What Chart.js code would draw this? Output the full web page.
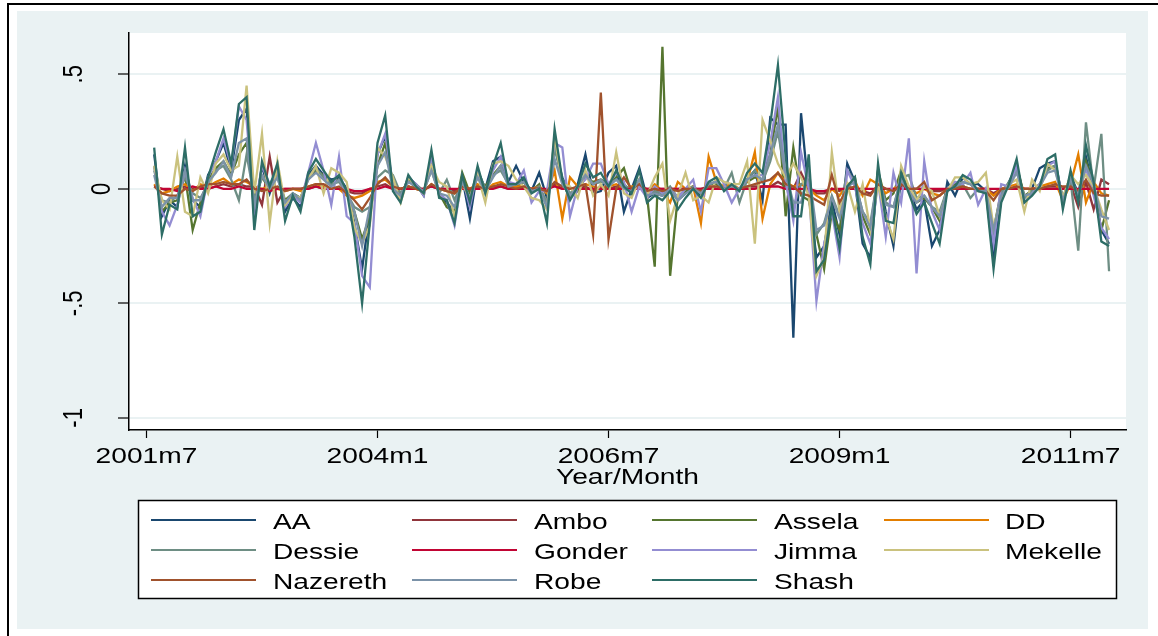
<!DOCTYPE html>
<html>
<head>
<meta charset="utf-8">
<script src="https://cdn.jsdelivr.net/npm/chart.js@4.4.1/dist/chart.umd.min.js"></script>
<style>
  html, body { margin: 0; padding: 0; background: #fff; }
  canvas { display: block; }
</style>
</head>
<body>
<canvas id="chart" width="1158" height="636"></canvas>
<script>
// months counted from 2001m7 (= 0); data runs 2001m8 .. 2011m12
const months = Array.from({ length: 125 }, (_, i) => i + 1);

const xTickMonths = [0, 30, 60, 90, 120];
const xTickLabels = ['2001m7', '2004m1', '2006m7', '2009m1', '2011m7'];
const yTickValues = [-1, -0.5, 0, 0.5];
const yTickLabels = ['-1', '-.5', '0', '.5'];

const seriesNames = ['AA', 'Ambo', 'Assela', 'DD', 'Dessie', 'Gonder', 'Jimma', 'Mekelle', 'Nazereth', 'Robe', 'Shash'];
const seriesColors = ['#1A476F', '#90353B', '#55752F', '#E37E00', '#6E8E84', '#C10534', '#938DD2', '#CAC27E', '#A0522D', '#7B92A8', '#2D6D66'];

const aa = [
  0.15, -0.12, -0.05, -0.08, 0.10, -0.05, -0.08, 0.06, 0.12, 0.20,
  0.08, 0.30, 0.35, -0.12, 0.10, -0.02, 0.08, -0.10, -0.04, -0.08,
  0.06, 0.10, 0.06, 0.04, 0.05, 0.00, -0.15, -0.35, -0.10, 0.15,
  0.23, 0.01, -0.04, 0.05, 0.02, -0.03, 0.14, -0.03, -0.06, -0.10,
  0.05, -0.13, 0.08, 0.00, 0.12, 0.14, 0.03, 0.10, 0.03, -0.01,
  0.07, -0.04, 0.18, 0.05, -0.03, 0.02, 0.15, -0.02, -0.01, 0.07,
  0.10, -0.10, 0.00, 0.09, -0.04, -0.02, -0.03, 0.00, -0.05, -0.02,
  0.01, -0.03, 0.02, 0.03, 0.00, 0.01, 0.00, 0.04, 0.08, -0.05,
  0.31, 0.28, 0.28, -0.65, 0.33, -0.02, -0.30, -0.25, -0.05, -0.20,
  0.11, 0.03, -0.24, -0.30, 0.08, -0.10, -0.25, 0.05, 0.00, -0.09,
  -0.05, -0.25, -0.18, 0.03, -0.03, 0.05, 0.02, 0.02, -0.01, -0.30,
  -0.04, 0.03, 0.10, -0.04, 0.00, 0.09, 0.11, 0.12, -0.05, 0.06,
  -0.02, 0.14, 0.00, -0.18, -0.24
];
const ambo = [
  0.01, 0.00, -0.01, 0.00, 0.01, 0.00, 0.01, 0.00, 0.01, 0.02,
  0.01, 0.02, 0.01, 0.01, -0.07, 0.14, -0.06, 0.00, 0.00, 0.00,
  0.00, 0.01, 0.00, 0.00, 0.00, -0.01, -0.02, -0.02, 0.00, 0.01,
  0.02, 0.00, 0.00, 0.01, 0.00, 0.00, 0.01, 0.00, 0.00, -0.01,
  0.00, 0.00, 0.01, 0.00, 0.01, 0.01, 0.00, 0.00, 0.01, 0.00,
  0.00, -0.01, 0.02, 0.00, 0.00, 0.00, 0.01, -0.01, 0.01, 0.00,
  0.01, 0.00, 0.00, 0.01, 0.00, 0.00, 0.00, 0.00, 0.00, 0.00,
  0.00, 0.00, 0.01, 0.00, 0.00, 0.00, 0.00, 0.01, 0.01, 0.01,
  0.01, 0.03, 0.01, 0.00, 0.07, 0.00, -0.02, -0.02, 0.00, -0.01,
  0.01, 0.00, -0.01, -0.02, 0.01, 0.00, -0.01, 0.01, 0.00, 0.00,
  0.00, -0.01, -0.01, 0.00, 0.00, 0.00, 0.00, 0.00, 0.00, -0.02,
  0.00, 0.00, 0.01, 0.00, 0.00, 0.00, 0.01, 0.01, 0.00, 0.02,
  -0.08, 0.03, -0.09, 0.04, 0.02
];
const assela = [
  0.10, -0.10, -0.06, -0.05, 0.06, -0.18, -0.06, 0.04, 0.09, 0.12,
  0.06, 0.15, 0.20, -0.05, 0.05, 0.00, 0.06, -0.05, -0.02, -0.04,
  0.04, 0.08, 0.06, 0.03, 0.04, -0.02, -0.10, -0.22, -0.12, 0.10,
  0.20, 0.02, -0.03, 0.04, 0.00, -0.01, 0.10, -0.02, -0.08, -0.10,
  0.07, -0.02, 0.05, 0.01, 0.06, 0.10, 0.03, 0.01, 0.03, -0.01,
  0.02, -0.08, 0.20, 0.03, -0.04, -0.01, 0.05, 0.03, 0.04, 0.02,
  0.05, 0.09, -0.02, 0.04, -0.03, -0.34, 0.62, -0.38, -0.03, -0.01,
  0.01, -0.02, 0.02, 0.02, 0.00, 0.01, 0.00, 0.03, 0.05, 0.04,
  0.15, 0.36, -0.12, 0.18, -0.03, -0.05, -0.20, -0.35, -0.10, -0.18,
  0.00, 0.05, -0.12, -0.20, 0.08, -0.05, -0.02, 0.08, 0.00, -0.06,
  -0.04, -0.08, -0.14, 0.00, 0.02, 0.03, 0.02, -0.01, -0.01, -0.18,
  -0.01, 0.02, 0.10, -0.03, -0.01, 0.02, 0.09, 0.10, -0.04, 0.05,
  -0.04, 0.12, 0.01, -0.18, -0.05
];
const dd = [
  0.02, -0.02, -0.01, 0.01, 0.02, -0.01, 0.02, 0.01, 0.03, 0.045,
  0.02, 0.04, 0.03, 0.01, 0.00, 0.01, 0.00, -0.01, 0.00, -0.01,
  0.01, 0.02, 0.01, 0.00, 0.00, -0.03, -0.04, -0.03, -0.01, 0.03,
  0.04, 0.01, 0.00, 0.01, 0.00, -0.01, 0.02, 0.00, -0.01, -0.02,
  0.01, 0.00, 0.02, -0.01, 0.02, 0.03, 0.01, 0.01, 0.01, 0.00,
  0.01, -0.02, 0.08, -0.13, 0.05, 0.01, 0.02, 0.01, 0.00, 0.01,
  0.02, 0.00, 0.01, 0.02, -0.01, 0.02, -0.01, -0.06, 0.03, 0.00,
  0.01, -0.15, 0.14, 0.03, 0.01, 0.02, 0.00, 0.03, 0.16, -0.13,
  0.02, 0.07, 0.03, 0.01, 0.02, 0.00, -0.03, -0.05, 0.00, -0.03,
  0.02, 0.03, -0.03, 0.04, 0.02, -0.02, 0.00, 0.02, 0.01, -0.02,
  0.00, -0.02, -0.03, 0.00, 0.01, 0.01, 0.00, 0.00, 0.00, -0.03,
  0.00, 0.01, 0.02, 0.00, 0.00, 0.01, 0.02, 0.03, -0.05, 0.02,
  0.15, -0.06, 0.03, -0.02, -0.03
];
const dessie = [
  0.08, -0.05, -0.06, -0.03, 0.05, -0.02, -0.04, 0.02, 0.08, 0.10,
  0.04, -0.05, 0.15, -0.04, 0.05, 0.01, 0.05, -0.06, -0.02, -0.04,
  0.05, 0.09, 0.05, 0.02, 0.03, -0.02, -0.08, -0.10, -0.08, 0.05,
  0.08, 0.06, -0.02, 0.03, 0.02, -0.01, 0.08, -0.02, 0.04, -0.05,
  0.03, -0.04, 0.08, 0.00, 0.06, 0.08, 0.02, 0.02, 0.03, -0.01,
  0.01, -0.06, 0.18, 0.04, -0.02, 0.01, 0.06, 0.02, 0.03, 0.02,
  0.04, 0.02, -0.01, 0.03, -0.03, -0.01, -0.02, 0.01, -0.04, 0.00,
  0.01, -0.02, 0.02, 0.03, 0.00, 0.07, -0.06, 0.04, 0.08, 0.03,
  0.12, 0.25, 0.05, -0.08, 0.02, 0.04, -0.20, -0.15, -0.03, -0.12,
  0.08, 0.03, -0.10, -0.15, 0.06, -0.06, -0.08, 0.05, 0.06, -0.04,
  -0.03, -0.08, -0.10, 0.00, 0.01, 0.02, -0.04, 0.00, -0.01, -0.20,
  -0.02, 0.03, 0.08, -0.04, -0.01, 0.02, 0.08, 0.10, -0.05, 0.04,
  -0.27, 0.29, 0.00, 0.24, -0.36
];
const gonder = [
  0.01, 0.00, 0.00, -0.01, 0.00, 0.01, 0.00, 0.00, 0.01, 0.00,
  0.00, 0.01, 0.00, 0.00, 0.00, -0.01, 0.00, 0.00, 0.00, 0.00,
  0.00, 0.01, 0.00, 0.00, 0.00, 0.00, -0.01, -0.01, 0.00, 0.00,
  0.01, 0.00, 0.00, 0.00, 0.00, 0.00, 0.01, 0.00, 0.00, 0.00,
  0.00, 0.00, 0.00, 0.00, 0.00, 0.01, 0.00, 0.00, 0.00, 0.00,
  0.00, 0.00, 0.01, 0.00, 0.00, 0.00, 0.00, 0.00, 0.00, 0.00,
  0.00, 0.00, 0.00, 0.00, 0.00, 0.00, 0.00, 0.00, 0.00, 0.00,
  0.00, 0.00, 0.00, 0.00, 0.00, 0.00, 0.00, 0.00, 0.00, 0.01,
  0.01, 0.01, 0.00, 0.00, 0.00, 0.00, -0.01, -0.01, 0.00, 0.00,
  0.00, 0.00, 0.00, 0.00, 0.00, 0.00, 0.00, 0.00, 0.00, 0.00,
  0.00, 0.00, 0.00, 0.00, 0.00, 0.00, 0.00, 0.00, 0.00, 0.00,
  0.00, 0.00, 0.00, 0.00, 0.00, 0.00, 0.00, 0.00, 0.00, 0.00,
  0.00, 0.00, 0.00, 0.00, 0.00
];
const jimma = [
  0.10, -0.10, -0.16, -0.07, 0.08, -0.04, -0.12, 0.05, 0.12, 0.22,
  0.10, 0.36, 0.30, -0.10, 0.10, 0.02, 0.08, -0.08, -0.03, -0.06,
  0.07, 0.20, 0.08, -0.07, 0.14, -0.12, -0.15, -0.38, -0.43, 0.15,
  0.24, 0.02, -0.05, 0.05, 0.02, -0.03, 0.14, -0.02, -0.05, -0.16,
  0.05, -0.08, 0.08, -0.02, 0.08, 0.14, 0.03, 0.02, 0.08, -0.06,
  -0.01, -0.01, 0.20, 0.18, -0.12, 0.01, 0.04, 0.11, 0.11, 0.02,
  0.07, 0.03, -0.10, 0.01, -0.04, 0.01, -0.02, 0.00, -0.04, 0.00,
  0.04, -0.10, 0.09, 0.09, 0.02, -0.06, 0.00, 0.04, 0.06, 0.06,
  0.20, 0.40, 0.03, -0.14, 0.16, 0.00, -0.49, -0.24, -0.10, -0.30,
  0.08, 0.01, -0.15, -0.24, 0.03, -0.21, 0.07, -0.06, 0.22, -0.37,
  0.12, -0.10, -0.18, 0.00, 0.03, 0.02, 0.07, -0.07, 0.00, -0.24,
  0.02, 0.01, 0.10, -0.06, -0.02, 0.02, 0.10, 0.12, -0.05, 0.05,
  -0.03, 0.09, -0.03, -0.17, -0.22
];
const mekelle = [
  0.10, -0.05, -0.09, 0.14, -0.10, -0.12, 0.05, -0.02, 0.11, 0.15,
  0.08, 0.10, 0.45, -0.02, 0.24, -0.15, 0.12, -0.07, -0.03, -0.04,
  0.04, 0.10, -0.02, 0.09, 0.07, 0.03, -0.17, -0.24, -0.16, 0.18,
  0.14, 0.05, -0.06, 0.05, 0.01, -0.02, 0.10, 0.03, 0.01, -0.12,
  0.02, -0.04, 0.06, -0.06, 0.11, 0.12, 0.10, 0.04, 0.01, -0.04,
  -0.05, -0.09, 0.23, 0.02, 0.01, -0.04, 0.08, -0.03, 0.02, -0.03,
  0.16, -0.02, -0.04, 0.04, -0.03, 0.05, 0.11, -0.14, -0.03, 0.07,
  -0.05, -0.03, -0.06, 0.05, 0.03, 0.02, 0.02, 0.12, -0.24, 0.30,
  0.21, 0.11, 0.05, 0.11, 0.05, -0.03, -0.38, -0.30, 0.16, -0.10,
  0.02, -0.10, 0.02, -0.18, 0.02, -0.12, -0.22, 0.10, 0.01, -0.05,
  0.01, -0.01, -0.12, -0.01, 0.05, 0.05, 0.02, 0.03, 0.07, -0.17,
  -0.04, 0.02, 0.04, -0.10, 0.04, -0.01, 0.11, 0.08, -0.04, 0.06,
  0.02, 0.06, 0.01, -0.09, -0.18
];
const nazereth = [
  0.01, -0.02, -0.03, -0.03, 0.00, -0.01, 0.01, 0.02, 0.02, 0.03,
  0.02, 0.02, 0.04, 0.00, -0.01, 0.00, 0.01, -0.01, 0.00, 0.00,
  0.01, 0.02, 0.02, 0.00, 0.01, -0.02, -0.05, -0.09, -0.04, 0.02,
  0.05, 0.01, 0.00, 0.01, 0.00, -0.01, 0.02, 0.00, -0.01, -0.02,
  0.01, 0.00, 0.01, 0.00, 0.01, 0.02, 0.01, 0.00, 0.01, 0.00,
  0.00, -0.01, 0.03, 0.01, 0.00, 0.01, 0.02, -0.20, 0.42, -0.22,
  0.00, 0.05, 0.00, 0.02, -0.01, 0.00, -0.01, 0.00, -0.01, 0.00,
  0.00, -0.01, 0.01, 0.01, 0.00, 0.01, 0.00, 0.01, 0.02, 0.03,
  0.04, 0.07, 0.02, 0.01, -0.02, -0.03, -0.05, -0.07, 0.06, -0.06,
  0.00, 0.01, -0.02, -0.03, 0.02, 0.00, -0.01, 0.02, 0.00, 0.00,
  0.03, -0.05, -0.03, 0.00, 0.00, 0.01, 0.00, 0.00, -0.01, -0.05,
  0.00, 0.00, 0.01, 0.00, 0.00, 0.00, 0.01, 0.02, 0.01, 0.01,
  -0.01, 0.04, -0.02, -0.03, -0.03
];
const robe = [
  0.06, -0.08, -0.04, -0.04, 0.08, -0.05, -0.05, 0.03, 0.07, 0.12,
  0.05, 0.20, 0.22, -0.08, 0.06, 0.00, 0.05, -0.06, -0.02, -0.05,
  0.04, 0.07, 0.04, 0.01, 0.04, -0.01, -0.10, -0.25, -0.08, 0.10,
  0.16, 0.00, -0.03, 0.03, 0.01, -0.01, 0.08, -0.02, -0.03, -0.08,
  0.03, -0.04, 0.05, -0.01, 0.05, 0.10, 0.01, 0.02, 0.03, -0.01,
  0.00, -0.08, 0.13, 0.02, -0.03, 0.01, 0.06, 0.02, 0.04, 0.01,
  0.04, 0.00, -0.01, 0.04, -0.03, -0.02, -0.03, 0.00, -0.05, -0.02,
  0.00, -0.02, 0.02, 0.03, 0.00, 0.01, 0.00, 0.04, 0.06, 0.04,
  0.15, 0.28, 0.07, -0.06, -0.06, 0.08, -0.18, -0.16, -0.04, -0.13,
  0.01, 0.03, -0.10, -0.17, 0.06, -0.07, -0.08, 0.04, -0.01, -0.06,
  -0.03, -0.08, -0.12, -0.01, 0.01, 0.03, 0.02, -0.01, -0.01, -0.18,
  -0.03, 0.01, 0.07, -0.03, -0.02, 0.01, 0.07, 0.08, -0.05, 0.04,
  -0.03, 0.10, 0.02, -0.12, -0.13
];
const shash = [
  0.18, -0.20, -0.07, -0.09, 0.18, -0.12, -0.10, 0.05, 0.16, 0.26,
  0.11, 0.37, 0.40, -0.18, 0.12, 0.01, 0.11, -0.14, -0.03, -0.10,
  0.07, 0.13, 0.08, 0.03, 0.06, -0.01, -0.21, -0.50, -0.15, 0.20,
  0.32, -0.01, -0.06, 0.06, 0.01, -0.02, 0.17, -0.04, -0.05, -0.15,
  0.06, -0.06, 0.10, -0.02, 0.10, 0.20, 0.02, 0.02, 0.05, -0.02,
  0.00, -0.15, 0.26, 0.04, -0.05, 0.01, 0.11, 0.05, 0.07, 0.01,
  0.08, 0.01, -0.02, 0.08, -0.06, -0.03, -0.05, -0.01, -0.09, -0.04,
  0.00, -0.04, 0.03, 0.05, -0.01, 0.02, -0.01, 0.07, 0.11, 0.07,
  0.28, 0.54, 0.14, -0.12, -0.12, 0.15, -0.36, -0.31, -0.08, -0.26,
  0.01, 0.05, -0.21, -0.33, 0.11, -0.14, -0.15, 0.07, -0.02, -0.11,
  -0.06, -0.15, -0.24, -0.01, 0.01, 0.06, 0.04, -0.01, -0.02, -0.35,
  -0.06, 0.02, 0.13, -0.06, -0.03, 0.01, 0.13, 0.15, -0.09, 0.08,
  -0.06, 0.19, 0.03, -0.23, -0.25
];

const seriesValues = [aa, ambo, assela, dd, dessie, gonder, jimma, mekelle, nazereth, robe, shash];

const X_STRETCH = 1.28; // the reference text is widened horizontally
const FONT = '22px "Liberation Sans", Arial, sans-serif';

function drawText(ctx, text, x, y, align, rotated) {
  ctx.save();
  ctx.translate(x, y);
  ctx.scale(X_STRETCH, 1);
  if (rotated) ctx.rotate(-Math.PI / 2);
  ctx.font = FONT;
  ctx.fillStyle = '#000';
  ctx.textAlign = align;
  ctx.textBaseline = 'alphabetic';
  ctx.fillText(text, 0, 0);
  ctx.restore();
}

const stataFrame = {
  id: 'stataFrame',
  beforeDraw(chart) {
    const ctx = chart.ctx;
    const a = chart.chartArea;
    ctx.save();
    ctx.fillStyle = '#fff';
    ctx.fillRect(0, 0, chart.width, chart.height);
    ctx.fillStyle = '#000';
    ctx.fillRect(7, 3, chart.width - 7, 2);
    ctx.fillRect(7, 3, 2, chart.height - 3);
    ctx.fillStyle = '#EAF2F3';
    ctx.fillRect(17, 11, 1131, 618);
    ctx.fillStyle = '#fff';
    ctx.fillRect(a.left, a.top, a.right - a.left, a.bottom - a.top);
    ctx.restore();
  },
  afterDraw(chart) {
    const ctx = chart.ctx;
    const xs = chart.scales.x;
    const ys = chart.scales.y;
    const a = chart.chartArea;

    // y labels, vertical like Stata
    yTickValues.forEach((v, i) => {
      const py = ys.getPixelForValue(v);
      const bx = yTickLabels[i] === '0' ? 110 : 82;
      drawText(ctx, yTickLabels[i], bx, py, 'center', true);
    });

    // x labels and title
    xTickMonths.forEach((m, i) => {
      drawText(ctx, xTickLabels[i], xs.getPixelForValue(m), 463, 'center', false);
    });
    drawText(ctx, 'Year/Month', (a.left + a.right) / 2, 484, 'center', false);

    // legend box
    ctx.save();
    ctx.fillStyle = '#fff';
    ctx.fillRect(138, 500, 979, 99);
    ctx.strokeStyle = '#000';
    ctx.lineWidth = 1.5;
    ctx.strokeRect(138.5, 500.5, 978, 98);
    ctx.restore();

    const colLine = [151, 412, 652, 884];
    const colText = [273, 534, 774, 1005];
    const rowY = [520, 550, 580];
    chart.data.datasets.forEach((ds, i) => {
      const c = i % 4;
      const r = Math.floor(i / 4);
      ctx.save();
      ctx.strokeStyle = ds.borderColor;
      ctx.lineWidth = 2;
      ctx.beginPath();
      ctx.moveTo(colLine[c], rowY[r]);
      ctx.lineTo(colLine[c] + 105, rowY[r]);
      ctx.stroke();
      ctx.restore();
      drawText(ctx, ds.label, colText[c], rowY[r] + 9, 'left', false);
    });
  }
};

const datasets = seriesNames.map((name, i) => ({
  label: name,
  data: months.map((m, j) => ({ x: m, y: seriesValues[i][j] })),
  borderColor: seriesColors[i],
  backgroundColor: seriesColors[i],
  borderWidth: 2.3,
  pointRadius: 0,
  tension: 0,
  fill: false,
  order: seriesNames.length - i
}));

new Chart(document.getElementById('chart'), {
  type: 'line',
  data: { datasets: datasets },
  plugins: [stataFrame],
  options: {
    responsive: false,
    devicePixelRatio: 1,
    animation: false,
    layout: { padding: { left: 0, right: 32, top: 33, bottom: 0 } },
    plugins: {
      legend: { display: false },
      tooltip: { enabled: false }
    },
    scales: {
      x: {
        type: 'linear',
        min: -2.27,
        max: 127.2,
        afterBuildTicks: (s) => { s.ticks = xTickMonths.map((v) => ({ value: v })); },
        afterFit: (s) => { s.height = 206; },
        ticks: { display: false },
        grid: { display: true, drawOnChartArea: false, drawTicks: true, tickLength: 8, tickColor: '#000', tickWidth: 1.2 },
        border: { display: true, color: '#000', width: 1.5 }
      },
      y: {
        min: -1.053,
        max: 0.68,
        afterBuildTicks: (s) => { s.ticks = yTickValues.map((v) => ({ value: v })); },
        afterFit: (s) => { s.width = 129; },
        ticks: { display: false },
        grid: { color: '#EAF2F3', lineWidth: 2, drawTicks: true, tickLength: 11, tickColor: '#000', tickWidth: 1.2 },
        border: { display: true, color: '#000', width: 1.5 }
      }
    }
  }
});
</script>
</body>
</html>
